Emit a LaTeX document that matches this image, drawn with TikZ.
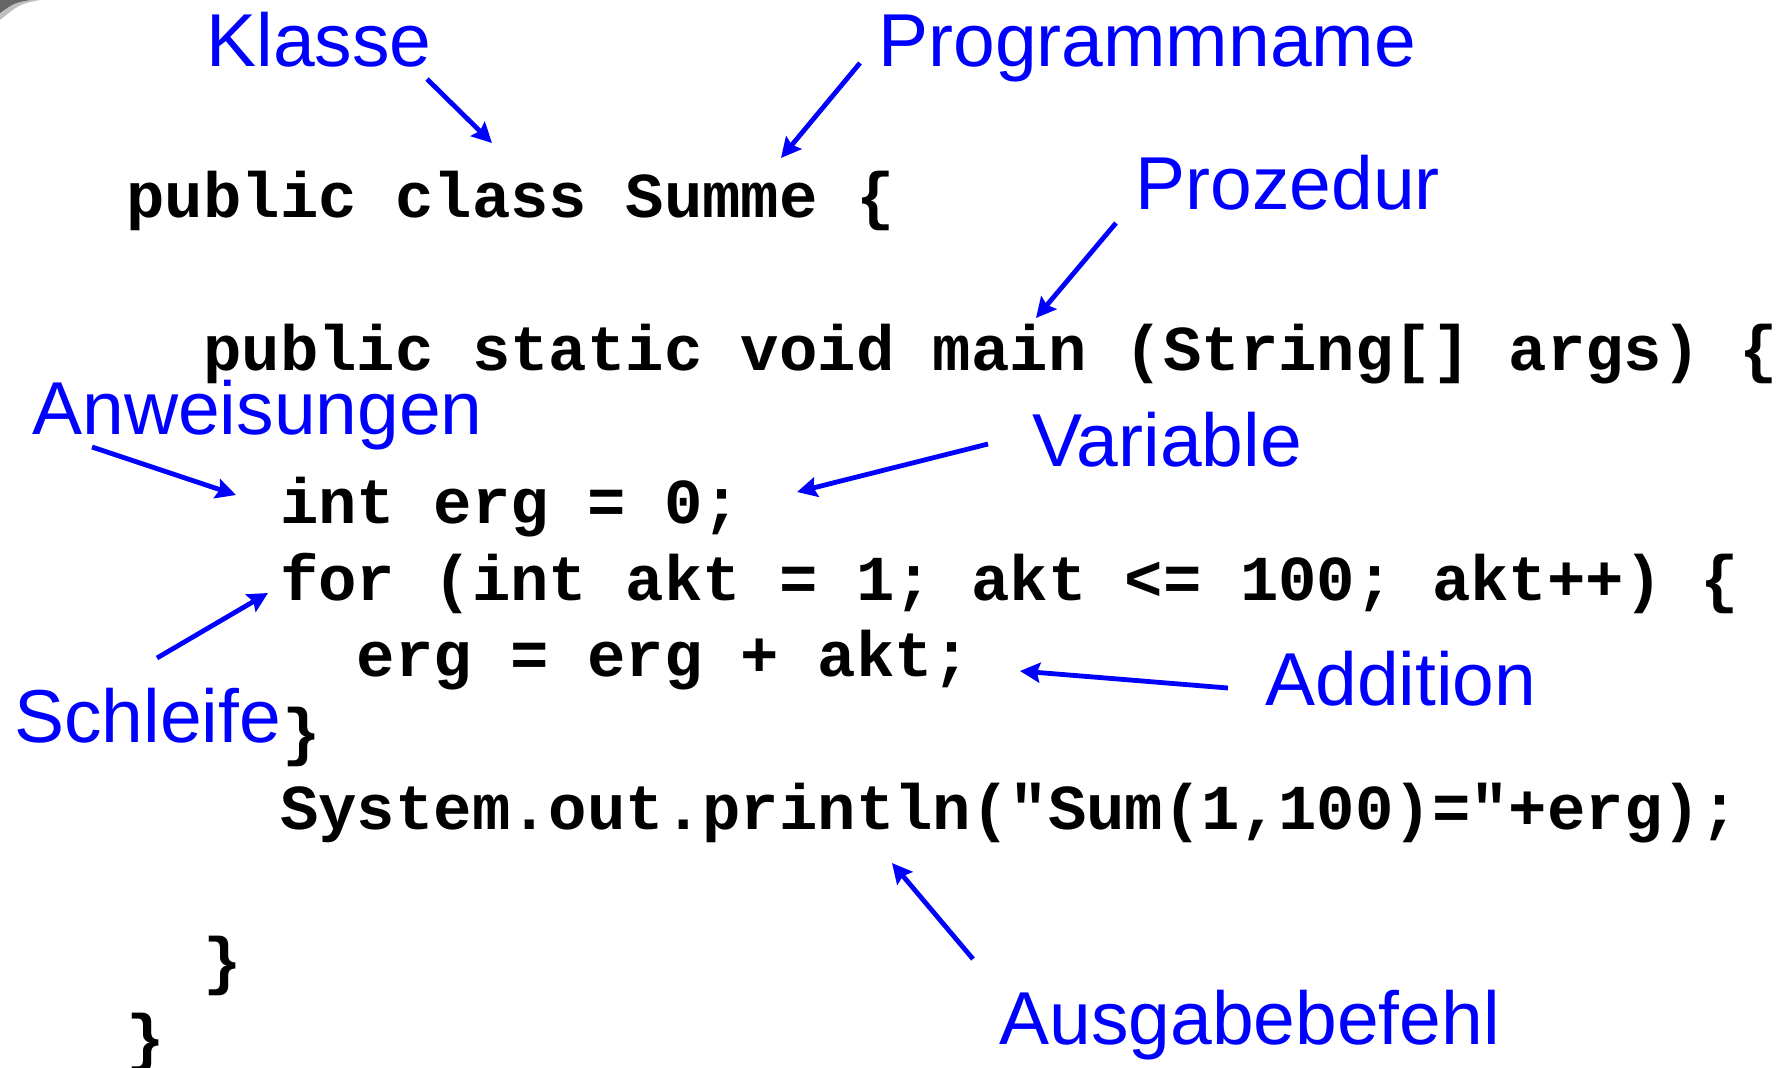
\documentclass[tikz,border=0pt]{standalone}
\usepackage{fontspec}
\newfontfamily\codefont{Liberation Mono}[Ligatures=TeXOff]
\newfontfamily\labelfont{Liberation Sans}
\usetikzlibrary{arrows.meta}
\definecolor{lblblue}{RGB}{0,0,255}
\begin{document}
\begin{tikzpicture}[x=0.5pt,y=-0.5pt,
  codeline/.style={anchor=base west,inner sep=0pt,font=\codefont\bfseries\fontsize{32}{38}\selectfont,text=black},
  lbl/.style={anchor=base west,inner sep=0pt,font=\labelfont\fontsize{37.5}{45}\selectfont,text=lblblue},
  arr/.style={draw=lblblue,line width=2.4pt,-{Stealth[length=10pt,width=10pt,inset=1.5pt]}}]
\useasboundingbox (0,0) rectangle (1783,1067);
% corner shadow
\fill[black!25] (0,0) -- (40,0) .. controls (20,4) .. (0,20) -- cycle;
\fill[black!60] (0,0) -- (30,0) .. controls (14,3) .. (0,13) -- cycle;
% code lines
\node[codeline] (l1) at (126,217) {public class Summe \{};
\node[codeline] (l3) at (202.8,370) {public static void main (String[] args) \{};
\node[codeline] (l5) at (279.6,523) {int erg = 0;};
\node[codeline] (l6) at (279.6,600) {for (int akt = 1; akt <= 100; akt++) \{};
\node[codeline] (l7) at (356.4,676) {erg = erg + akt;};
\node[codeline] (l8) at (281.6,753) {\}};
\node[codeline] (l9) at (279.6,829) {System.out.println("Sum(1,100)="+erg);};
\node[codeline] (l11) at (202.8,982) {\}};
\node[codeline] (l12) at (126,1059) {\}};
% labels
\node[lbl] (klasse) at (206,66) {Klasse};
\node[lbl] (prog) at (878,66) {Programmname};
\node[lbl] (proz) at (1135,209) {Prozedur};
\node[lbl] (anw) at (32,434) {Anweisungen};
\node[lbl] (var) at (1032,466) {Variable};
\node[lbl] (schl) at (14,742) {Schleife};
\node[lbl] (add) at (1265,705) {Addition};
\node[lbl] (ausg) at (999,1044) {Ausgabebefehl};
% arrow end points
\coordinate (kS) at (427,79);   \coordinate (kT) at (492,143);
\coordinate (pS) at (860,63);   \coordinate (pT) at (781,158);
\coordinate (zS) at (1116,223); \coordinate (zT) at (1036,318);
\coordinate (aS) at (92,447);   \coordinate (aT) at (236,495);
\coordinate (vS) at (988,444);  \coordinate (vT) at (797,492);
\coordinate (sS) at (157,658);  \coordinate (sT) at (268,593);
\coordinate (dS) at (1228,688); \coordinate (dT) at (1020,671);
\coordinate (gS) at (973,959);  \coordinate (gT) at (892,863);
\draw[arr] (kS) -- (kT);
\draw[arr] (pS) -- (pT);
\draw[arr] (zS) -- (zT);
\draw[arr] (aS) -- (aT);
\draw[arr] (vS) -- (vT);
\draw[arr] (sS) -- (sT);
\draw[arr] (dS) -- (dT);
\draw[arr] (gS) -- (gT);
\end{tikzpicture}
\end{document}
